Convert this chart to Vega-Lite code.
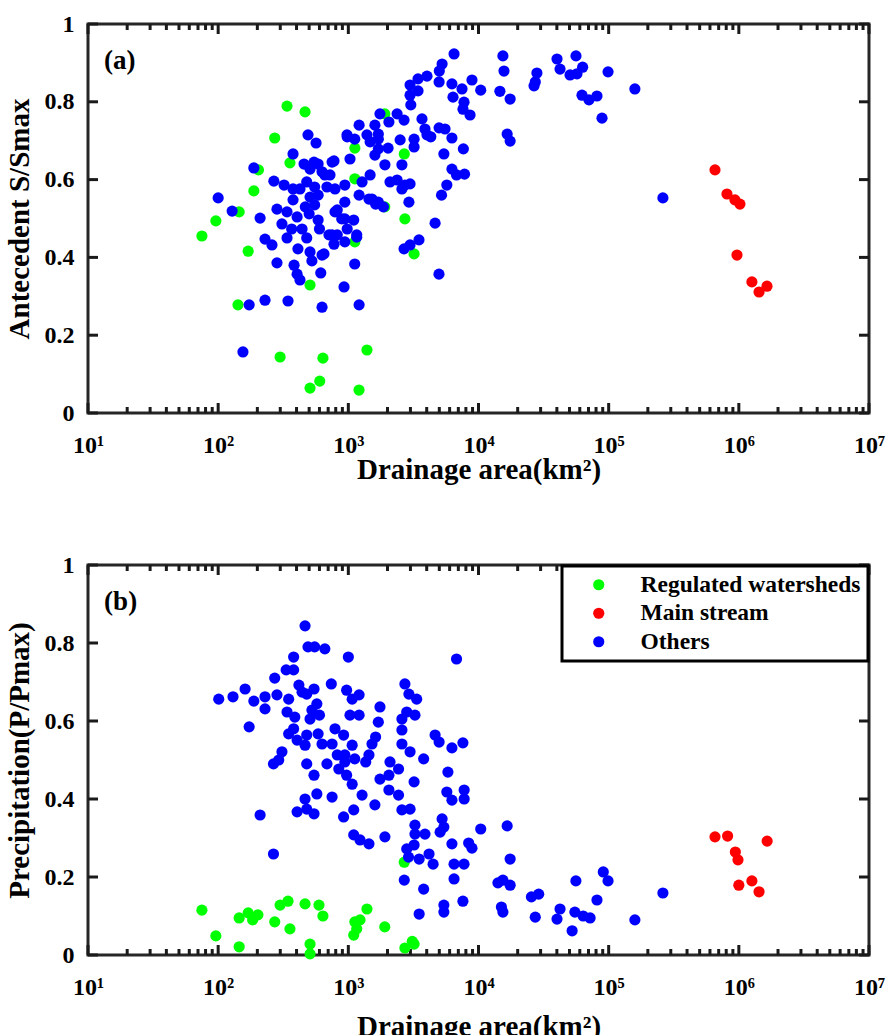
{
  "$schema": "https://vega.github.io/schema/vega-lite/v6.json",
  "padding": {"top": 10, "left": 3, "right": 10, "bottom": 0},
  "spacing": 65,
  "resolve": {"scale": {"color": "independent"}, "legend": {"color": "independent"}},
  "config": {
    "view": {"stroke": "#262626", "strokeWidth": 3},
    "font": "Liberation Serif",
    "axis": {"domain": false, "grid": false, "ticks": false, "labelFont": "Liberation Serif", "labelFontWeight": "bold", "labelFontSize": 24, "labelColor": "black", "titleFont": "Liberation Serif", "titleFontWeight": "bold", "titleFontSize": 29, "titleColor": "black", "labelOverlap": false, "labelFlush": false},
    "legend": {"strokeColor": "black", "strokeWidth": 3},
    "tick": {"color": "#1a1a1a", "thickness": 3, "opacity": 1}
  },
  "datasets": {
    "xmajor": [{"t": 10}, {"t": 100}, {"t": 1000}, {"t": 10000}, {"t": 100000}, {"t": 1000000}, {"t": 10000000}],
    "xminor": [{"t": 20}, {"t": 30}, {"t": 40}, {"t": 50}, {"t": 60}, {"t": 70}, {"t": 80}, {"t": 90}, {"t": 200}, {"t": 300}, {"t": 400}, {"t": 500}, {"t": 600}, {"t": 700}, {"t": 800}, {"t": 900}, {"t": 2000}, {"t": 3000}, {"t": 4000}, {"t": 5000}, {"t": 6000}, {"t": 7000}, {"t": 8000}, {"t": 9000}, {"t": 20000}, {"t": 30000}, {"t": 40000}, {"t": 50000}, {"t": 60000}, {"t": 70000}, {"t": 80000}, {"t": 90000}, {"t": 200000}, {"t": 300000}, {"t": 400000}, {"t": 500000}, {"t": 600000}, {"t": 700000}, {"t": 800000}, {"t": 900000}, {"t": 2000000}, {"t": 3000000}, {"t": 4000000}, {"t": 5000000}, {"t": 6000000}, {"t": 7000000}, {"t": 8000000}, {"t": 9000000}],
    "yt": [{"t": 0}, {"t": 0.2}, {"t": 0.4}, {"t": 0.6}, {"t": 0.8}, {"t": 1}],
    "a": [
      {"area": 75, "v": 0.455, "type": "Regulated watersheds"},
      {"area": 96, "v": 0.494, "type": "Regulated watersheds"},
      {"area": 145, "v": 0.517, "type": "Regulated watersheds"},
      {"area": 170, "v": 0.416, "type": "Regulated watersheds"},
      {"area": 188, "v": 0.571, "type": "Regulated watersheds"},
      {"area": 204, "v": 0.625, "type": "Regulated watersheds"},
      {"area": 142, "v": 0.278, "type": "Regulated watersheds"},
      {"area": 272, "v": 0.707, "type": "Regulated watersheds"},
      {"area": 338, "v": 0.789, "type": "Regulated watersheds"},
      {"area": 465, "v": 0.774, "type": "Regulated watersheds"},
      {"area": 356, "v": 0.643, "type": "Regulated watersheds"},
      {"area": 299, "v": 0.144, "type": "Regulated watersheds"},
      {"area": 508, "v": 0.329, "type": "Regulated watersheds"},
      {"area": 638, "v": 0.141, "type": "Regulated watersheds"},
      {"area": 508, "v": 0.064, "type": "Regulated watersheds"},
      {"area": 603, "v": 0.082, "type": "Regulated watersheds"},
      {"area": 1390, "v": 0.162, "type": "Regulated watersheds"},
      {"area": 1208, "v": 0.059, "type": "Regulated watersheds"},
      {"area": 1122, "v": 0.681, "type": "Regulated watersheds"},
      {"area": 1122, "v": 0.602, "type": "Regulated watersheds"},
      {"area": 1122, "v": 0.44, "type": "Regulated watersheds"},
      {"area": 1905, "v": 0.53, "type": "Regulated watersheds"},
      {"area": 1905, "v": 0.769, "type": "Regulated watersheds"},
      {"area": 2690, "v": 0.666, "type": "Regulated watersheds"},
      {"area": 2720, "v": 0.499, "type": "Regulated watersheds"},
      {"area": 3200, "v": 0.409, "type": "Regulated watersheds"},
      {"area": 656000, "v": 0.625, "type": "Main stream"},
      {"area": 811000, "v": 0.563, "type": "Main stream"},
      {"area": 933000, "v": 0.548, "type": "Main stream"},
      {"area": 1020000, "v": 0.537, "type": "Main stream"},
      {"area": 968000, "v": 0.406, "type": "Main stream"},
      {"area": 1260000, "v": 0.337, "type": "Main stream"},
      {"area": 1430000, "v": 0.311, "type": "Main stream"},
      {"area": 1645000, "v": 0.326, "type": "Main stream"},
      {"area": 6490, "v": 0.923, "type": "Others"},
      {"area": 15400, "v": 0.918, "type": "Others"},
      {"area": 40100, "v": 0.91, "type": "Others"},
      {"area": 56100, "v": 0.918, "type": "Others"},
      {"area": 15700, "v": 0.879, "type": "Others"},
      {"area": 42300, "v": 0.884, "type": "Others"},
      {"area": 28100, "v": 0.874, "type": "Others"},
      {"area": 50500, "v": 0.869, "type": "Others"},
      {"area": 57100, "v": 0.872, "type": "Others"},
      {"area": 63100, "v": 0.889, "type": "Others"},
      {"area": 98900, "v": 0.877, "type": "Others"},
      {"area": 26700, "v": 0.841, "type": "Others"},
      {"area": 27300, "v": 0.851, "type": "Others"},
      {"area": 8910, "v": 0.856, "type": "Others"},
      {"area": 6250, "v": 0.846, "type": "Others"},
      {"area": 7470, "v": 0.833, "type": "Others"},
      {"area": 10400, "v": 0.83, "type": "Others"},
      {"area": 14600, "v": 0.827, "type": "Others"},
      {"area": 17500, "v": 0.807, "type": "Others"},
      {"area": 6370, "v": 0.812, "type": "Others"},
      {"area": 7740, "v": 0.799, "type": "Others"},
      {"area": 7600, "v": 0.781, "type": "Others"},
      {"area": 8610, "v": 0.766, "type": "Others"},
      {"area": 62400, "v": 0.817, "type": "Others"},
      {"area": 70600, "v": 0.805, "type": "Others"},
      {"area": 81300, "v": 0.815, "type": "Others"},
      {"area": 88900, "v": 0.758, "type": "Others"},
      {"area": 159000, "v": 0.833, "type": "Others"},
      {"area": 5530, "v": 0.73, "type": "Others"},
      {"area": 6250, "v": 0.707, "type": "Others"},
      {"area": 7650, "v": 0.679, "type": "Others"},
      {"area": 5420, "v": 0.666, "type": "Others"},
      {"area": 16600, "v": 0.717, "type": "Others"},
      {"area": 17500, "v": 0.699, "type": "Others"},
      {"area": 6250, "v": 0.627, "type": "Others"},
      {"area": 6780, "v": 0.612, "type": "Others"},
      {"area": 7810, "v": 0.614, "type": "Others"},
      {"area": 5710, "v": 0.586, "type": "Others"},
      {"area": 5200, "v": 0.56, "type": "Others"},
      {"area": 4970, "v": 0.357, "type": "Others"},
      {"area": 261000, "v": 0.553, "type": "Others"},
      {"area": 5250, "v": 0.897, "type": "Others"},
      {"area": 5000, "v": 0.879, "type": "Others"},
      {"area": 4020, "v": 0.866, "type": "Others"},
      {"area": 3430, "v": 0.859, "type": "Others"},
      {"area": 2980, "v": 0.843, "type": "Others"},
      {"area": 3430, "v": 0.828, "type": "Others"},
      {"area": 2980, "v": 0.817, "type": "Others"},
      {"area": 4980, "v": 0.851, "type": "Others"},
      {"area": 3020, "v": 0.792, "type": "Others"},
      {"area": 2370, "v": 0.769, "type": "Others"},
      {"area": 1750, "v": 0.769, "type": "Others"},
      {"area": 2050, "v": 0.748, "type": "Others"},
      {"area": 2680, "v": 0.753, "type": "Others"},
      {"area": 3680, "v": 0.756, "type": "Others"},
      {"area": 3880, "v": 0.73, "type": "Others"},
      {"area": 4980, "v": 0.733, "type": "Others"},
      {"area": 1600, "v": 0.74, "type": "Others"},
      {"area": 1210, "v": 0.74, "type": "Others"},
      {"area": 980, "v": 0.71, "type": "Others"},
      {"area": 1120, "v": 0.704, "type": "Others"},
      {"area": 1390, "v": 0.715, "type": "Others"},
      {"area": 1470, "v": 0.697, "type": "Others"},
      {"area": 1700, "v": 0.704, "type": "Others"},
      {"area": 1700, "v": 0.679, "type": "Others"},
      {"area": 2500, "v": 0.702, "type": "Others"},
      {"area": 3200, "v": 0.704, "type": "Others"},
      {"area": 4020, "v": 0.715, "type": "Others"},
      {"area": 4300, "v": 0.71, "type": "Others"},
      {"area": 3200, "v": 0.684, "type": "Others"},
      {"area": 2020, "v": 0.681, "type": "Others"},
      {"area": 1600, "v": 0.663, "type": "Others"},
      {"area": 1030, "v": 0.653, "type": "Others"},
      {"area": 1910, "v": 0.638, "type": "Others"},
      {"area": 2580, "v": 0.638, "type": "Others"},
      {"area": 1470, "v": 0.612, "type": "Others"},
      {"area": 2090, "v": 0.594, "type": "Others"},
      {"area": 2370, "v": 0.599, "type": "Others"},
      {"area": 2720, "v": 0.586, "type": "Others"},
      {"area": 2980, "v": 0.589, "type": "Others"},
      {"area": 2920, "v": 0.542, "type": "Others"},
      {"area": 2580, "v": 0.576, "type": "Others"},
      {"area": 4640, "v": 0.488, "type": "Others"},
      {"area": 1210, "v": 0.56, "type": "Others"},
      {"area": 1520, "v": 0.55, "type": "Others"},
      {"area": 1700, "v": 0.542, "type": "Others"},
      {"area": 1860, "v": 0.53, "type": "Others"},
      {"area": 1100, "v": 0.496, "type": "Others"},
      {"area": 980, "v": 0.473, "type": "Others"},
      {"area": 1160, "v": 0.452, "type": "Others"},
      {"area": 2680, "v": 0.422, "type": "Others"},
      {"area": 2980, "v": 0.432, "type": "Others"},
      {"area": 3490, "v": 0.445, "type": "Others"},
      {"area": 1120, "v": 0.383, "type": "Others"},
      {"area": 927, "v": 0.324, "type": "Others"},
      {"area": 1210, "v": 0.278, "type": "Others"},
      {"area": 100, "v": 0.553, "type": "Others"},
      {"area": 128, "v": 0.519, "type": "Others"},
      {"area": 188, "v": 0.63, "type": "Others"},
      {"area": 210, "v": 0.501, "type": "Others"},
      {"area": 155, "v": 0.157, "type": "Others"},
      {"area": 173, "v": 0.278, "type": "Others"},
      {"area": 229, "v": 0.29, "type": "Others"},
      {"area": 344, "v": 0.288, "type": "Others"},
      {"area": 628, "v": 0.272, "type": "Others"},
      {"area": 283, "v": 0.386, "type": "Others"},
      {"area": 376, "v": 0.666, "type": "Others"},
      {"area": 490, "v": 0.715, "type": "Others"},
      {"area": 565, "v": 0.694, "type": "Others"},
      {"area": 977, "v": 0.715, "type": "Others"},
      {"area": 268, "v": 0.596, "type": "Others"},
      {"area": 321, "v": 0.586, "type": "Others"},
      {"area": 376, "v": 0.576, "type": "Others"},
      {"area": 425, "v": 0.576, "type": "Others"},
      {"area": 283, "v": 0.524, "type": "Others"},
      {"area": 338, "v": 0.517, "type": "Others"},
      {"area": 309, "v": 0.486, "type": "Others"},
      {"area": 376, "v": 0.548, "type": "Others"},
      {"area": 457, "v": 0.64, "type": "Others"},
      {"area": 545, "v": 0.645, "type": "Others"},
      {"area": 586, "v": 0.64, "type": "Others"},
      {"area": 508, "v": 0.627, "type": "Others"},
      {"area": 628, "v": 0.62, "type": "Others"},
      {"area": 776, "v": 0.648, "type": "Others"},
      {"area": 723, "v": 0.612, "type": "Others"},
      {"area": 479, "v": 0.594, "type": "Others"},
      {"area": 551, "v": 0.581, "type": "Others"},
      {"area": 685, "v": 0.581, "type": "Others"},
      {"area": 508, "v": 0.555, "type": "Others"},
      {"area": 586, "v": 0.56, "type": "Others"},
      {"area": 551, "v": 0.535, "type": "Others"},
      {"area": 467, "v": 0.53, "type": "Others"},
      {"area": 500, "v": 0.512, "type": "Others"},
      {"area": 404, "v": 0.504, "type": "Others"},
      {"area": 367, "v": 0.473, "type": "Others"},
      {"area": 441, "v": 0.473, "type": "Others"},
      {"area": 229, "v": 0.447, "type": "Others"},
      {"area": 259, "v": 0.432, "type": "Others"},
      {"area": 338, "v": 0.45, "type": "Others"},
      {"area": 479, "v": 0.45, "type": "Others"},
      {"area": 586, "v": 0.496, "type": "Others"},
      {"area": 600, "v": 0.473, "type": "Others"},
      {"area": 710, "v": 0.458, "type": "Others"},
      {"area": 776, "v": 0.434, "type": "Others"},
      {"area": 822, "v": 0.458, "type": "Others"},
      {"area": 410, "v": 0.422, "type": "Others"},
      {"area": 508, "v": 0.414, "type": "Others"},
      {"area": 525, "v": 0.391, "type": "Others"},
      {"area": 650, "v": 0.409, "type": "Others"},
      {"area": 383, "v": 0.38, "type": "Others"},
      {"area": 404, "v": 0.357, "type": "Others"},
      {"area": 425, "v": 0.342, "type": "Others"},
      {"area": 614, "v": 0.36, "type": "Others"},
      {"area": 822, "v": 0.522, "type": "Others"},
      {"area": 940, "v": 0.499, "type": "Others"},
      {"area": 1160, "v": 0.458, "type": "Others"},
      {"area": 1275, "v": 0.594, "type": "Others"},
      {"area": 940, "v": 0.542, "type": "Others"},
      {"area": 790, "v": 0.517, "type": "Others"},
      {"area": 890, "v": 0.499, "type": "Others"},
      {"area": 790, "v": 0.576, "type": "Others"},
      {"area": 940, "v": 0.586, "type": "Others"},
      {"area": 1440, "v": 0.55, "type": "Others"},
      {"area": 1620, "v": 0.537, "type": "Others"},
      {"area": 750, "v": 0.645, "type": "Others"},
      {"area": 660, "v": 0.612, "type": "Others"},
      {"area": 750, "v": 0.458, "type": "Others"},
      {"area": 940, "v": 0.44, "type": "Others"},
      {"area": 628, "v": 0.406, "type": "Others"},
      {"area": 1700, "v": 0.717, "type": "Others"}
    ],
    "b": [
      {"area": 75, "v": 0.115, "type": "Regulated watersheds"},
      {"area": 96, "v": 0.049, "type": "Regulated watersheds"},
      {"area": 145, "v": 0.095, "type": "Regulated watersheds"},
      {"area": 145, "v": 0.021, "type": "Regulated watersheds"},
      {"area": 170, "v": 0.108, "type": "Regulated watersheds"},
      {"area": 184, "v": 0.09, "type": "Regulated watersheds"},
      {"area": 202, "v": 0.103, "type": "Regulated watersheds"},
      {"area": 272, "v": 0.085, "type": "Regulated watersheds"},
      {"area": 299, "v": 0.128, "type": "Regulated watersheds"},
      {"area": 344, "v": 0.138, "type": "Regulated watersheds"},
      {"area": 356, "v": 0.067, "type": "Regulated watersheds"},
      {"area": 465, "v": 0.131, "type": "Regulated watersheds"},
      {"area": 508, "v": 0.028, "type": "Regulated watersheds"},
      {"area": 508, "v": 0.003, "type": "Regulated watersheds"},
      {"area": 595, "v": 0.128, "type": "Regulated watersheds"},
      {"area": 638, "v": 0.1, "type": "Regulated watersheds"},
      {"area": 1122, "v": 0.085, "type": "Regulated watersheds"},
      {"area": 1100, "v": 0.051, "type": "Regulated watersheds"},
      {"area": 1160, "v": 0.067, "type": "Regulated watersheds"},
      {"area": 1230, "v": 0.09, "type": "Regulated watersheds"},
      {"area": 1390, "v": 0.118, "type": "Regulated watersheds"},
      {"area": 1905, "v": 0.072, "type": "Regulated watersheds"},
      {"area": 2690, "v": 0.238, "type": "Regulated watersheds"},
      {"area": 2720, "v": 0.018, "type": "Regulated watersheds"},
      {"area": 3200, "v": 0.028, "type": "Regulated watersheds"},
      {"area": 3100, "v": 0.035, "type": "Regulated watersheds"},
      {"area": 656000, "v": 0.303, "type": "Main stream"},
      {"area": 820000, "v": 0.305, "type": "Main stream"},
      {"area": 940000, "v": 0.264, "type": "Main stream"},
      {"area": 985000, "v": 0.244, "type": "Main stream"},
      {"area": 1000000, "v": 0.179, "type": "Main stream"},
      {"area": 1260000, "v": 0.19, "type": "Main stream"},
      {"area": 1430000, "v": 0.162, "type": "Main stream"},
      {"area": 1650000, "v": 0.292, "type": "Main stream"},
      {"area": 6780, "v": 0.759, "type": "Others"},
      {"area": 6250, "v": 0.531, "type": "Others"},
      {"area": 7590, "v": 0.544, "type": "Others"},
      {"area": 5820, "v": 0.469, "type": "Others"},
      {"area": 5710, "v": 0.418, "type": "Others"},
      {"area": 6250, "v": 0.397, "type": "Others"},
      {"area": 7760, "v": 0.423, "type": "Others"},
      {"area": 7760, "v": 0.4, "type": "Others"},
      {"area": 5250, "v": 0.349, "type": "Others"},
      {"area": 5420, "v": 0.328, "type": "Others"},
      {"area": 6250, "v": 0.285, "type": "Others"},
      {"area": 8400, "v": 0.287, "type": "Others"},
      {"area": 8910, "v": 0.274, "type": "Others"},
      {"area": 10400, "v": 0.323, "type": "Others"},
      {"area": 16600, "v": 0.331, "type": "Others"},
      {"area": 17500, "v": 0.246, "type": "Others"},
      {"area": 6490, "v": 0.233, "type": "Others"},
      {"area": 7740, "v": 0.233, "type": "Others"},
      {"area": 6490, "v": 0.195, "type": "Others"},
      {"area": 5420, "v": 0.128, "type": "Others"},
      {"area": 5420, "v": 0.11, "type": "Others"},
      {"area": 7590, "v": 0.138, "type": "Others"},
      {"area": 14100, "v": 0.185, "type": "Others"},
      {"area": 15400, "v": 0.192, "type": "Others"},
      {"area": 17500, "v": 0.179, "type": "Others"},
      {"area": 15000, "v": 0.123, "type": "Others"},
      {"area": 15400, "v": 0.11, "type": "Others"},
      {"area": 25500, "v": 0.149, "type": "Others"},
      {"area": 29000, "v": 0.156, "type": "Others"},
      {"area": 27300, "v": 0.097, "type": "Others"},
      {"area": 40100, "v": 0.092, "type": "Others"},
      {"area": 42300, "v": 0.118, "type": "Others"},
      {"area": 52400, "v": 0.062, "type": "Others"},
      {"area": 55000, "v": 0.11, "type": "Others"},
      {"area": 63700, "v": 0.1, "type": "Others"},
      {"area": 72000, "v": 0.095, "type": "Others"},
      {"area": 56000, "v": 0.19, "type": "Others"},
      {"area": 81300, "v": 0.141, "type": "Others"},
      {"area": 90900, "v": 0.213, "type": "Others"},
      {"area": 98900, "v": 0.19, "type": "Others"},
      {"area": 159000, "v": 0.09, "type": "Others"},
      {"area": 261000, "v": 0.159, "type": "Others"},
      {"area": 101, "v": 0.656, "type": "Others"},
      {"area": 130, "v": 0.662, "type": "Others"},
      {"area": 161, "v": 0.682, "type": "Others"},
      {"area": 173, "v": 0.585, "type": "Others"},
      {"area": 188, "v": 0.651, "type": "Others"},
      {"area": 229, "v": 0.662, "type": "Others"},
      {"area": 229, "v": 0.631, "type": "Others"},
      {"area": 210, "v": 0.359, "type": "Others"},
      {"area": 266, "v": 0.259, "type": "Others"},
      {"area": 266, "v": 0.49, "type": "Others"},
      {"area": 309, "v": 0.521, "type": "Others"},
      {"area": 292, "v": 0.5, "type": "Others"},
      {"area": 272, "v": 0.71, "type": "Others"},
      {"area": 283, "v": 0.667, "type": "Others"},
      {"area": 333, "v": 0.731, "type": "Others"},
      {"area": 380, "v": 0.764, "type": "Others"},
      {"area": 380, "v": 0.731, "type": "Others"},
      {"area": 348, "v": 0.656, "type": "Others"},
      {"area": 338, "v": 0.623, "type": "Others"},
      {"area": 388, "v": 0.61, "type": "Others"},
      {"area": 380, "v": 0.58, "type": "Others"},
      {"area": 348, "v": 0.567, "type": "Others"},
      {"area": 404, "v": 0.551, "type": "Others"},
      {"area": 417, "v": 0.692, "type": "Others"},
      {"area": 441, "v": 0.674, "type": "Others"},
      {"area": 479, "v": 0.669, "type": "Others"},
      {"area": 465, "v": 0.844, "type": "Others"},
      {"area": 490, "v": 0.79, "type": "Others"},
      {"area": 551, "v": 0.79, "type": "Others"},
      {"area": 660, "v": 0.785, "type": "Others"},
      {"area": 1000, "v": 0.764, "type": "Others"},
      {"area": 545, "v": 0.682, "type": "Others"},
      {"area": 525, "v": 0.628, "type": "Others"},
      {"area": 573, "v": 0.644, "type": "Others"},
      {"area": 600, "v": 0.615, "type": "Others"},
      {"area": 508, "v": 0.605, "type": "Others"},
      {"area": 586, "v": 0.567, "type": "Others"},
      {"area": 479, "v": 0.564, "type": "Others"},
      {"area": 465, "v": 0.538, "type": "Others"},
      {"area": 628, "v": 0.541, "type": "Others"},
      {"area": 740, "v": 0.695, "type": "Others"},
      {"area": 750, "v": 0.541, "type": "Others"},
      {"area": 790, "v": 0.58, "type": "Others"},
      {"area": 920, "v": 0.564, "type": "Others"},
      {"area": 970, "v": 0.679, "type": "Others"},
      {"area": 1070, "v": 0.656, "type": "Others"},
      {"area": 1210, "v": 0.667, "type": "Others"},
      {"area": 1030, "v": 0.615, "type": "Others"},
      {"area": 1210, "v": 0.615, "type": "Others"},
      {"area": 1750, "v": 0.636, "type": "Others"},
      {"area": 1700, "v": 0.597, "type": "Others"},
      {"area": 1620, "v": 0.559, "type": "Others"},
      {"area": 1520, "v": 0.541, "type": "Others"},
      {"area": 1440, "v": 0.513, "type": "Others"},
      {"area": 1360, "v": 0.495, "type": "Others"},
      {"area": 1070, "v": 0.538, "type": "Others"},
      {"area": 940, "v": 0.495, "type": "Others"},
      {"area": 1120, "v": 0.503, "type": "Others"},
      {"area": 940, "v": 0.513, "type": "Others"},
      {"area": 479, "v": 0.49, "type": "Others"},
      {"area": 545, "v": 0.461, "type": "Others"},
      {"area": 685, "v": 0.49, "type": "Others"},
      {"area": 822, "v": 0.513, "type": "Others"},
      {"area": 845, "v": 0.477, "type": "Others"},
      {"area": 970, "v": 0.461, "type": "Others"},
      {"area": 1070, "v": 0.438, "type": "Others"},
      {"area": 1275, "v": 0.41, "type": "Others"},
      {"area": 1600, "v": 0.385, "type": "Others"},
      {"area": 1750, "v": 0.451, "type": "Others"},
      {"area": 2090, "v": 0.495, "type": "Others"},
      {"area": 2050, "v": 0.461, "type": "Others"},
      {"area": 2050, "v": 0.423, "type": "Others"},
      {"area": 2430, "v": 0.41, "type": "Others"},
      {"area": 2430, "v": 0.477, "type": "Others"},
      {"area": 750, "v": 0.405, "type": "Others"},
      {"area": 573, "v": 0.413, "type": "Others"},
      {"area": 404, "v": 0.367, "type": "Others"},
      {"area": 465, "v": 0.4, "type": "Others"},
      {"area": 479, "v": 0.374, "type": "Others"},
      {"area": 545, "v": 0.362, "type": "Others"},
      {"area": 920, "v": 0.354, "type": "Others"},
      {"area": 1100, "v": 0.372, "type": "Others"},
      {"area": 1100, "v": 0.308, "type": "Others"},
      {"area": 1230, "v": 0.295, "type": "Others"},
      {"area": 1440, "v": 0.285, "type": "Others"},
      {"area": 1910, "v": 0.303, "type": "Others"},
      {"area": 2580, "v": 0.372, "type": "Others"},
      {"area": 2980, "v": 0.374, "type": "Others"},
      {"area": 3250, "v": 0.333, "type": "Others"},
      {"area": 3250, "v": 0.31, "type": "Others"},
      {"area": 3880, "v": 0.31, "type": "Others"},
      {"area": 2810, "v": 0.272, "type": "Others"},
      {"area": 3200, "v": 0.282, "type": "Others"},
      {"area": 3500, "v": 0.246, "type": "Others"},
      {"area": 4170, "v": 0.259, "type": "Others"},
      {"area": 2900, "v": 0.251, "type": "Others"},
      {"area": 2690, "v": 0.192, "type": "Others"},
      {"area": 3790, "v": 0.169, "type": "Others"},
      {"area": 3500, "v": 0.105, "type": "Others"},
      {"area": 2720, "v": 0.695, "type": "Others"},
      {"area": 2920, "v": 0.669, "type": "Others"},
      {"area": 3350, "v": 0.656, "type": "Others"},
      {"area": 2580, "v": 0.605, "type": "Others"},
      {"area": 2810, "v": 0.623, "type": "Others"},
      {"area": 3250, "v": 0.615, "type": "Others"},
      {"area": 2580, "v": 0.577, "type": "Others"},
      {"area": 2580, "v": 0.541, "type": "Others"},
      {"area": 2980, "v": 0.521, "type": "Others"},
      {"area": 3790, "v": 0.503, "type": "Others"},
      {"area": 3200, "v": 0.444, "type": "Others"},
      {"area": 4640, "v": 0.564, "type": "Others"},
      {"area": 4980, "v": 0.546, "type": "Others"},
      {"area": 5070, "v": 0.315, "type": "Others"},
      {"area": 4480, "v": 0.233, "type": "Others"}
    ]
  },
  "vconcat": [
    {
      "width": 781,
      "height": 389,
      "layer": [
        {"data": {"name": "xmajor"}, "mark": {"type": "tick", "orient": "vertical", "size": 10, "yOffset": -5},
         "encoding": {"x": {"field": "t", "type": "quantitative", "scale": {"type": "log", "domain": [10, 10000000], "nice": false}, "axis": null},
                      "y": {"datum": 0, "type": "quantitative", "scale": {"domain": [0, 1], "nice": false}, "axis": null}}},
        {"data": {"name": "xminor"}, "mark": {"type": "tick", "orient": "vertical", "size": 6, "yOffset": -3},
         "encoding": {"x": {"field": "t", "type": "quantitative", "scale": {"type": "log", "domain": [10, 10000000], "nice": false}, "axis": null},
                      "y": {"datum": 0, "type": "quantitative", "scale": {"domain": [0, 1], "nice": false}, "axis": null}}},
        {"data": {"name": "xmajor"}, "mark": {"type": "tick", "orient": "vertical", "size": 10, "yOffset": 5},
         "encoding": {"x": {"field": "t", "type": "quantitative", "scale": {"type": "log", "domain": [10, 10000000], "nice": false}, "axis": null},
                      "y": {"datum": 1, "type": "quantitative", "scale": {"domain": [0, 1], "nice": false}, "axis": null}}},
        {"data": {"name": "xminor"}, "mark": {"type": "tick", "orient": "vertical", "size": 6, "yOffset": 3},
         "encoding": {"x": {"field": "t", "type": "quantitative", "scale": {"type": "log", "domain": [10, 10000000], "nice": false}, "axis": null},
                      "y": {"datum": 1, "type": "quantitative", "scale": {"domain": [0, 1], "nice": false}, "axis": null}}},
        {"data": {"name": "yt"}, "mark": {"type": "tick", "orient": "horizontal", "size": 10, "xOffset": 5},
         "encoding": {"y": {"field": "t", "type": "quantitative", "scale": {"domain": [0, 1], "nice": false}, "axis": null},
                      "x": {"datum": 10, "type": "quantitative", "scale": {"type": "log", "domain": [10, 10000000], "nice": false}, "axis": null}}},
        {"data": {"name": "yt"}, "mark": {"type": "tick", "orient": "horizontal", "size": 10, "xOffset": -5},
         "encoding": {"y": {"field": "t", "type": "quantitative", "scale": {"domain": [0, 1], "nice": false}, "axis": null},
                      "x": {"datum": 10000000, "type": "quantitative", "scale": {"type": "log", "domain": [10, 10000000], "nice": false}, "axis": null}}},
        {
          "data": {"name": "a"},
          "mark": {"type": "circle", "size": 125, "opacity": 1},
          "encoding": {
            "x": {"field": "area", "type": "quantitative",
              "scale": {"type": "log", "domain": [10, 10000000], "nice": false},
              "axis": {"title": "Drainage area(km²)", "titlePadding": -2, "labelPadding": 20, "labelBaseline": "top",
                "values": [10, 100, 1000, 10000, 100000, 1000000, 10000000],
                "labelExpr": "'10' + substring('⁰¹²³⁴⁵⁶⁷⁸⁹', round(log(datum.value)/LN10), round(log(datum.value)/LN10) + 1)"}},
            "y": {"field": "v", "type": "quantitative",
              "scale": {"domain": [0, 1], "nice": false},
              "axis": {"title": "Antecedent S/Smax", "values": [0, 0.2, 0.4, 0.6, 0.8, 1], "format": ".1~f", "labelPadding": 14, "titlePadding": 10}},
            "color": {"field": "type", "type": "nominal",
              "scale": {"domain": ["Regulated watersheds", "Main stream", "Others"], "range": ["#00ff00", "#ff0000", "#0000ff"]},
              "legend": null}
          }
        },
        {
          "data": {"values": [{}]},
          "mark": {"type": "text", "text": "(a)", "align": "left", "baseline": "middle", "font": "Liberation Serif", "fontWeight": "bold", "fontSize": 27, "color": "black"},
          "encoding": {
            "x": {"datum": 13.3, "type": "quantitative", "scale": {"type": "log", "domain": [10, 10000000], "nice": false}, "axis": null},
            "y": {"datum": 0.905, "type": "quantitative", "scale": {"domain": [0, 1], "nice": false}, "axis": null}
          }
        }
      ],
      "resolve": {"axis": {"x": "independent", "y": "independent"}}
    },
    {
      "width": 781,
      "height": 390,
      "layer": [
        {"data": {"name": "xmajor"}, "mark": {"type": "tick", "orient": "vertical", "size": 10, "yOffset": -5},
         "encoding": {"x": {"field": "t", "type": "quantitative", "scale": {"type": "log", "domain": [10, 10000000], "nice": false}, "axis": null},
                      "y": {"datum": 0, "type": "quantitative", "scale": {"domain": [0, 1], "nice": false}, "axis": null}}},
        {"data": {"name": "xminor"}, "mark": {"type": "tick", "orient": "vertical", "size": 6, "yOffset": -3},
         "encoding": {"x": {"field": "t", "type": "quantitative", "scale": {"type": "log", "domain": [10, 10000000], "nice": false}, "axis": null},
                      "y": {"datum": 0, "type": "quantitative", "scale": {"domain": [0, 1], "nice": false}, "axis": null}}},
        {"data": {"name": "xmajor"}, "mark": {"type": "tick", "orient": "vertical", "size": 10, "yOffset": 5},
         "encoding": {"x": {"field": "t", "type": "quantitative", "scale": {"type": "log", "domain": [10, 10000000], "nice": false}, "axis": null},
                      "y": {"datum": 1, "type": "quantitative", "scale": {"domain": [0, 1], "nice": false}, "axis": null}}},
        {"data": {"name": "xminor"}, "mark": {"type": "tick", "orient": "vertical", "size": 6, "yOffset": 3},
         "encoding": {"x": {"field": "t", "type": "quantitative", "scale": {"type": "log", "domain": [10, 10000000], "nice": false}, "axis": null},
                      "y": {"datum": 1, "type": "quantitative", "scale": {"domain": [0, 1], "nice": false}, "axis": null}}},
        {"data": {"name": "yt"}, "mark": {"type": "tick", "orient": "horizontal", "size": 10, "xOffset": 5},
         "encoding": {"y": {"field": "t", "type": "quantitative", "scale": {"domain": [0, 1], "nice": false}, "axis": null},
                      "x": {"datum": 10, "type": "quantitative", "scale": {"type": "log", "domain": [10, 10000000], "nice": false}, "axis": null}}},
        {"data": {"name": "yt"}, "mark": {"type": "tick", "orient": "horizontal", "size": 10, "xOffset": -5},
         "encoding": {"y": {"field": "t", "type": "quantitative", "scale": {"domain": [0, 1], "nice": false}, "axis": null},
                      "x": {"datum": 10000000, "type": "quantitative", "scale": {"type": "log", "domain": [10, 10000000], "nice": false}, "axis": null}}},
        {
          "data": {"name": "b"},
          "mark": {"type": "circle", "size": 125, "opacity": 1},
          "encoding": {
            "x": {"field": "area", "type": "quantitative",
              "scale": {"type": "log", "domain": [10, 10000000], "nice": false},
              "axis": {"title": "Drainage area(km²)", "titlePadding": 13, "labelPadding": 20, "labelBaseline": "top",
                "values": [10, 100, 1000, 10000, 100000, 1000000, 10000000],
                "labelExpr": "'10' + substring('⁰¹²³⁴⁵⁶⁷⁸⁹', round(log(datum.value)/LN10), round(log(datum.value)/LN10) + 1)"}},
            "y": {"field": "v", "type": "quantitative",
              "scale": {"domain": [0, 1], "nice": false},
              "axis": {"title": "Precipitation(P/Pmax)", "values": [0, 0.2, 0.4, 0.6, 0.8, 1], "format": ".1~f", "labelPadding": 14, "titlePadding": 10}},
            "color": {"field": "type", "type": "nominal",
              "scale": {"domain": ["Regulated watersheds", "Main stream", "Others"], "range": ["#00ff00", "#ff0000", "#0000ff"]},
              "legend": {"title": null, "orient": "none", "legendX": 474, "legendY": 1, "padding": 7, "strokeColor": "black", "fillColor": "white", "symbolType": "circle", "symbolSize": 125, "symbolStrokeWidth": 0, "symbolOffset": 18, "labelFont": "Liberation Serif", "labelFontWeight": "bold", "labelFontSize": 23.5, "labelColor": "black", "labelLimit": 400, "labelOffset": 30, "rowPadding": 3.5}}
          }
        },
        {
          "data": {"values": [{}]},
          "mark": {"type": "text", "text": "(b)", "align": "left", "baseline": "middle", "font": "Liberation Serif", "fontWeight": "bold", "fontSize": 27, "color": "black"},
          "encoding": {
            "x": {"datum": 13.3, "type": "quantitative", "scale": {"type": "log", "domain": [10, 10000000], "nice": false}, "axis": null},
            "y": {"datum": 0.905, "type": "quantitative", "scale": {"domain": [0, 1], "nice": false}, "axis": null}
          }
        }
      ],
      "resolve": {"axis": {"x": "independent", "y": "independent"}}
    }
  ]
}
